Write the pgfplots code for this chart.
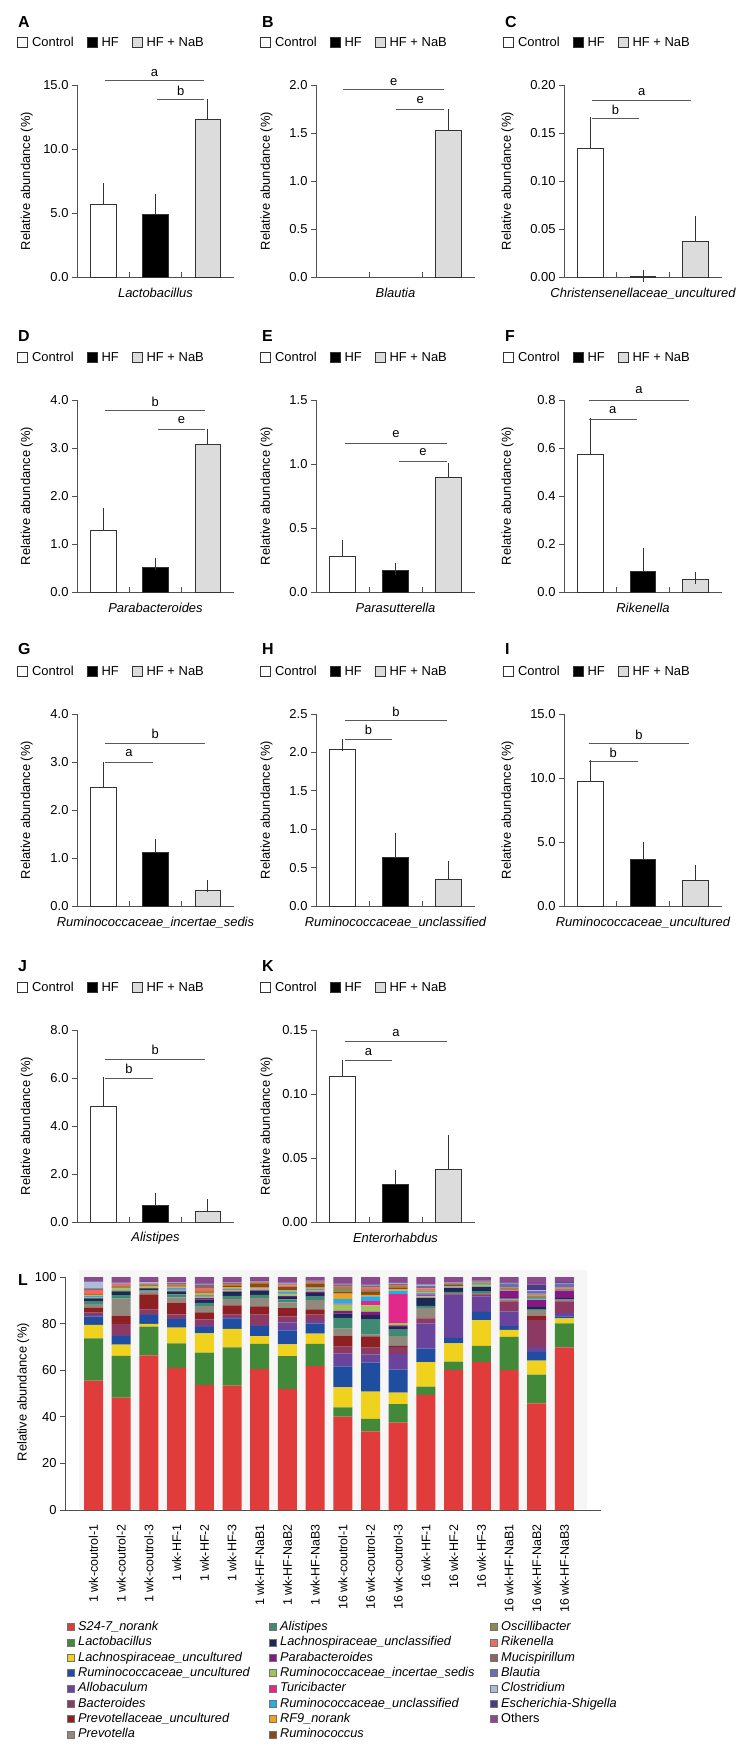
\documentclass[border=0pt]{standalone}
\usepackage{fontspec}
\setmainfont{Liberation Sans}
\usepackage{pgfplots}
\usepackage{pgfplotstable}
\pgfplotsset{compat=1.18}

\definecolor{axgray}{HTML}{505050}
\definecolor{barln}{HTML}{333333}
\definecolor{siggray}{HTML}{5A5A5A}
\definecolor{nabgray}{HTML}{DCDCDC}
\definecolor{bgL}{HTML}{F6F6F6}
% genus colours for panel L
\definecolor{cS24}{HTML}{E03C3C}
\definecolor{cLac}{HTML}{42893A}
\definecolor{cLaU}{HTML}{F0D21E}
\definecolor{cRuU}{HTML}{1F4DA0}
\definecolor{cAll}{HTML}{6A439C}
\definecolor{cBac}{HTML}{8C3A63}
\definecolor{cPvU}{HTML}{8E1F22}
\definecolor{cPre}{HTML}{8F8A7D}
\definecolor{cAli}{HTML}{3F8A72}
\definecolor{cLaX}{HTML}{1C2858}
\definecolor{cPar}{HTML}{861784}
\definecolor{cRuI}{HTML}{9CC65A}
\definecolor{cTur}{HTML}{E3288C}
\definecolor{cRuX}{HTML}{27ACE3}
\definecolor{cRF9}{HTML}{EEA21F}
\definecolor{cRum}{HTML}{8A4A1A}
\definecolor{cOsc}{HTML}{8C8A4F}
\definecolor{cRik}{HTML}{EC6B64}
\definecolor{cMuc}{HTML}{8D6461}
\definecolor{cBla}{HTML}{6B6DB3}
\definecolor{cClo}{HTML}{A9BDDA}
\definecolor{cEsc}{HTML}{4B3B86}
\definecolor{cOth}{HTML}{8C4A8E}

% panel L: relative abundance (%) per sample, bottom to top
\pgfplotstableread{
x  S24  Lac  LaU  RuU  All  Bac  PvU  Pre  Ali  LaX  Par  RuI  Tur  RuX  RF9  Rum  Osc  Rik  Muc  Bla  Clo  Esc  Oth
0  55.5 18.2 5.8  3.5  0.8  0.9  2.1  1.6  1.3  1.0  0.3  0.3  0.0  0.5  0.3  0.2  0.4  1.8  0.5  0.2  2.7  0.1  2.0
1  48.2 18.0 4.8  3.7  0.5  4.7  3.5  7.3  1.5  1.6  0.2  0.8  0.0  0.2  0.3  0.3  0.5  0.8  0.3  0.1  0.2  0.1  2.4
2  66.4 12.3 1.2  3.9  0.3  1.9  6.5  1.2  0.6  0.8  0.1  0.5  0.0  0.1  0.2  0.2  0.4  0.3  0.3  0.1  0.5  0.1  2.1
3  61.0 10.5 6.8  3.6  0.5  1.6  5.0  2.3  1.2  1.2  0.3  0.5  0.1  0.8  0.5  0.2  0.4  0.6  0.3  0.1  0.2  0.1  2.2
4  53.7 13.9 8.2  2.7  1.0  2.3  3.0  2.7  1.4  1.4  0.6  0.6  0.1  0.6  0.9  0.3  0.6  1.2  1.4  0.2  0.3  0.2  2.7
5  53.4 16.4 7.9  4.5  0.6  1.1  3.9  2.8  1.3  1.6  0.3  0.5  0.1  0.5  0.8  0.5  0.4  0.5  0.4  0.1  0.2  0.1  2.1
6  60.5 10.8 3.3  4.3  0.5  4.5  3.5  3.6  1.3  1.7  0.3  0.3  0.1  0.3  0.5  1.6  0.3  0.4  0.2  0.1  0.1  0.1  1.7
7  52.0 14.0 5.1  6.0  3.4  2.6  3.5  2.5  1.3  1.0  0.4  0.9  0.2  0.9  0.6  1.5  0.4  0.6  0.3  0.1  0.2  0.1  2.4
8  61.8 9.5  4.4  4.3  1.2  2.7  2.2  4.0  1.5  1.5  0.6  0.5  0.1  0.6  0.6  1.5  0.4  0.4  0.3  0.1  0.1  0.1  1.6
9  40.1 4.0  8.5  9.0  5.5  3.0  4.8  3.0  4.6  1.8  1.2  2.6  0.5  2.0  2.3  0.6  2.2  0.4  0.5  0.2  0.2  0.2  2.8
10 33.8 5.3  11.7 12.5 3.4  3.0  4.8  0.8  6.4  1.9  1.6  2.6  1.9  2.0  0.6  1.3  0.9  1.0  0.6  0.3  0.2  0.2  3.2
11 37.5 7.9  5.0  9.9  6.7  2.9  0.6  4.1  2.8  1.2  0.6  1.0  12.5 1.5  0.6  0.8  0.5  0.4  0.5  0.2  0.2  0.3  2.3
12 49.4 3.6  10.5 5.8  10.8 2.2  0.3  4.2  0.8  3.3  0.3  0.5  0.6  0.8  0.3  0.3  0.6  0.8  0.6  0.6  0.4  0.2  3.1
13 60.2 3.5  7.8  2.4  18.4 0.3  0.2  0.3  0.5  1.6  0.1  0.2  0.1  0.3  0.1  0.6  0.4  0.1  0.2  0.2  0.1  0.1  2.3
14 63.5 7.0  11.0 3.5  6.7  0.8  0.3  0.3  0.8  1.8  0.2  0.6  0.1  0.2  0.1  0.3  0.5  0.1  0.2  0.2  0.1  0.1  1.6
15 60.0 14.3 3.0  1.6  6.4  4.3  0.3  0.5  0.3  0.3  3.0  0.2  0.1  0.1  0.1  0.2  0.5  0.2  0.4  1.2  0.2  0.5  2.3
16 45.8 12.3 6.0  3.8  2.0  11.6 1.9  2.4  0.4  1.0  3.0  0.2  0.1  0.5  0.1  0.2  0.8  0.3  0.5  1.0  0.5  2.3  3.3
17 69.8 10.3 2.1  0.9  1.5  5.0  0.3  0.3  0.2  0.6  3.0  0.1  0.1  0.2  0.1  0.2  0.4  0.3  0.4  1.5  0.2  0.3  2.2
}\Ltab

\newcommand\lblfont{\fontsize{13}{15}\selectfont}

\pgfplotsset{
  base/.style={
    scale only axis, height=192bp, anchor=south west,
    xmin=0.5, xmax=3.5, ymin=0, clip=false,
    axis lines=left,
    axis line style={-, draw=axgray, line width=0.9bp},
    tick style={draw=axgray, line width=0.9bp},
    tick align=outside, major tick length=5bp,
    xtick={1.5,2.5}, xticklabels={\relax,\relax}, xtick style={yshift=5bp},
    scaled y ticks=false,
    /pgf/number format/assume math mode=true,
    tick label style={font=\lblfont},
    ylabel={Relative abundance (\%)},
    every axis x label/.style={at={(axis description cs:0.5,-0.085)}, anchor=center, font=\lblfont\itshape},
    legend columns=3,
    legend style={anchor=west, draw=none, fill=none, inner sep=0pt,
      font=\lblfont,
      nodes={inner xsep=4bp, inner ysep=0pt},
      /tikz/every even column/.append style={column sep=9bp}},
    legend image code/.code={\draw[##1, line width=0.8bp] (0bp,-5bp) rectangle (10bp,5bp);},
  },
  c1/.style={width=157bp, legend style={at={(-0.382,1.222)}},
    every axis y label/.style={at={(axis description cs:-0.32,0.5)}, rotate=90, anchor=center, font=\lblfont}},
  c2/.style={width=159bp, legend style={at={(-0.352,1.222)}},
    every axis y label/.style={at={(axis description cs:-0.311,0.5)}, rotate=90, anchor=center, font=\lblfont}},
  c3/.style={width=158bp, legend style={at={(-0.386,1.222)}},
    every axis y label/.style={at={(axis description cs:-0.358,0.5)}, rotate=90, anchor=center, font=\lblfont}},
  prec/.style={yticklabel style={/pgf/number format/.cd, fixed, fixed zerofill, precision=#1}},
  cbar/.style={ybar, bar width=0.49, bar shift=0pt, forget plot, draw=barln, line width=0.9bp,
    error bars/y dir=plus, error bars/y explicit,
    error bars/error bar style={draw=barln, line width=0.9bp},
    error bars/error mark options={draw=barln, line width=0.9bp, mark size=6bp}},
  pc/.style={fill=white, cbar},
  ph/.style={fill=black, cbar},
  pn/.style={fill=nabgray, cbar},
}

\newcommand\grpleg{%
  \addlegendimage{fill=white, draw=barln}\addlegendentry{Control}
  \addlegendimage{fill=black, draw=barln}\addlegendentry{HF}
  \addlegendimage{fill=nabgray, draw=barln}\addlegendentry{HF + NaB}}
\newcommand\sig[5]{%
  \draw[draw=siggray, line width=1bp] (axis cs:#1,#3) -- (axis cs:#2,#3);
  \node[inner sep=0pt, font=\lblfont] at (axis cs:{(#1+#2)/2},#4) {#5};}

\tikzset{lbl/.style={anchor=base west, inner sep=0pt, font=\fontsize{16}{18}\selectfont\bfseries}}

\begin{document}
\begin{tikzpicture}
\path (0,0) rectangle (750bp,-1753bp);

% ---------- row 1 ----------
\node[lbl] at (18bp,-27bp) {A};
\begin{axis}[base, c1, at={(77bp,-277bp)}, ymax=15, ytick={0,5,10,15}, prec=1,
  xlabel={Lactobacillus}]
\grpleg
\addplot[pc] coordinates {(1,5.70) +- (0,1.15)};
\addplot[ph] coordinates {(2,4.90) +- (0,1.10)};
\addplot[pn] coordinates {(3,12.27) +- (0,1.13)};
\sig{1.03}{2.93}{15.37}{15.96}{a}
\sig{2.03}{2.93}{13.9}{14.55}{b}
\end{axis}

\node[lbl] at (262bp,-27bp) {B};
\begin{axis}[base, c2, at={(316bp,-277bp)}, ymax=2, ytick={0,0.5,1,1.5,2}, prec=1,
  xlabel={Blautia}]
\grpleg
\addplot[pn] coordinates {(3,1.53) +- (0,0.16)};
\sig{1.01}{2.92}{1.95}{2.03}{e}
\sig{2.01}{2.92}{1.75}{1.84}{e}
\end{axis}

\node[lbl] at (505bp,-27bp) {C};
\begin{axis}[base, c3, at={(564bp,-277bp)}, ymax=0.2, ytick={0,0.05,0.1,0.15,0.2}, prec=2,
  xlabel={Christensenellaceae\_uncultured}]
\grpleg
\addplot[pc] coordinates {(1,0.134) +- (0,0.026)};
\addplot[ph] coordinates {(2,0.001) +- (0,0.0005)};
\addplot[pn] coordinates {(3,0.0368) +- (0,0.021)};
\sig{1.03}{2.92}{0.1837}{0.193}{a}
\sig{1.03}{1.92}{0.1646}{0.174}{b}
\end{axis}

% ---------- row 2 ----------
\node[lbl] at (18bp,-341bp) {D};
\begin{axis}[base, c1, at={(77bp,-592bp)}, ymax=4, ytick={0,1,2,3,4}, prec=1,
  xlabel={Parabacteroides}]
\grpleg
\addplot[pc] coordinates {(1,1.29) +- (0,0.335)};
\addplot[ph] coordinates {(2,0.51) +- (0,0.08)};
\addplot[pn] coordinates {(3,3.08) +- (0,0.20)};
\sig{1.04}{2.95}{3.78}{3.97}{b}
\sig{2.04}{2.95}{3.39}{3.58}{e}
\end{axis}

\node[lbl] at (262bp,-341bp) {E};
\begin{axis}[base, c2, at={(316bp,-592bp)}, ymax=1.5, ytick={0,0.5,1,1.5}, prec=1,
  xlabel={Parasutterella}]
\grpleg
\addplot[pc] coordinates {(1,0.28) +- (0,0.08)};
\addplot[ph] coordinates {(2,0.166) +- (0,0.011)};
\addplot[pn] coordinates {(3,0.896) +- (0,0.062)};
\sig{1.05}{2.97}{1.16}{1.23}{e}
\sig{2.07}{2.97}{1.016}{1.09}{e}
\end{axis}

\node[lbl] at (505bp,-341bp) {F};
\begin{axis}[base, c3, at={(564bp,-592bp)}, ymax=0.8, ytick={0,0.2,0.4,0.6,0.8}, prec=1,
  xlabel={Rikenella}]
\grpleg
\addplot[pc] coordinates {(1,0.575) +- (0,0.125)};
\addplot[ph] coordinates {(2,0.085) +- (0,0.073)};
\addplot[pn] coordinates {(3,0.053) +- (0,0.007)};
\sig{0.97}{2.88}{0.80}{0.84}{a}
\sig{0.97}{1.88}{0.72}{0.76}{a}
\end{axis}

% ---------- row 3 ----------
\node[lbl] at (18bp,-654bp) {G};
\begin{axis}[base, c1, at={(77bp,-906bp)}, ymax=4, ytick={0,1,2,3,4}, prec=1,
  xlabel={Ruminococcaceae\_incertae\_sedis}]
\grpleg
\addplot[pc] coordinates {(1,2.46) +- (0,0.42)};
\addplot[ph] coordinates {(2,1.125) +- (0,0.155)};
\addplot[pn] coordinates {(3,0.32) +- (0,0.10)};
\sig{1.04}{2.95}{3.39}{3.58}{b}
\sig{1.04}{1.95}{3.0}{3.19}{a}
\end{axis}

\node[lbl] at (262bp,-654bp) {H};
\begin{axis}[base, c2, at={(316bp,-906bp)}, ymax=2.5, ytick={0,0.5,1,1.5,2,2.5}, prec=1,
  xlabel={Ruminococcaceae\_unclassified}]
\grpleg
\addplot[pc] coordinates {(1,2.035) +- (0,0.055)};
\addplot[ph] coordinates {(2,0.63) +- (0,0.245)};
\addplot[pn] coordinates {(3,0.35) +- (0,0.16)};
\sig{1.05}{2.97}{2.41}{2.53}{b}
\sig{1.05}{1.93}{2.17}{2.29}{b}
\end{axis}

\node[lbl] at (505bp,-654bp) {I};
\begin{axis}[base, c3, at={(564bp,-906bp)}, ymax=15, ytick={0,5,10,15}, prec=1,
  xlabel={Ruminococcaceae\_uncultured}]
\grpleg
\addplot[pc] coordinates {(1,9.77) +- (0,1.17)};
\addplot[ph] coordinates {(2,3.67) +- (0,0.83)};
\addplot[pn] coordinates {(3,1.98) +- (0,0.75)};
\sig{0.97}{2.88}{12.7}{13.4}{b}
\sig{0.97}{1.90}{11.27}{12.0}{b}
\end{axis}

% ---------- row 4 ----------
\node[lbl] at (18bp,-971bp) {J};
\begin{axis}[base, c1, at={(77bp,-1222bp)}, ymax=8, ytick={0,2,4,6,8}, prec=1,
  xlabel={Alistipes}]
\grpleg
\addplot[pc] coordinates {(1,4.8) +- (0,1.0)};
\addplot[ph] coordinates {(2,0.67) +- (0,0.27)};
\addplot[pn] coordinates {(3,0.43) +- (0,0.28)};
\sig{1.04}{2.95}{6.78}{7.17}{b}
\sig{1.04}{1.95}{6.0}{6.39}{b}
\end{axis}

\node[lbl] at (262bp,-971bp) {K};
\begin{axis}[base, c2, at={(316bp,-1222bp)}, ymax=0.15, ytick={0,0.05,0.1,0.15}, prec=2,
  xlabel={Enterorhabdus}]
\grpleg
\addplot[pc] coordinates {(1,0.1135) +- (0,0.0085)};
\addplot[ph] coordinates {(2,0.0297) +- (0,0.0063)};
\addplot[pn] coordinates {(3,0.0414) +- (0,0.0221)};
\sig{1.05}{2.97}{0.1409}{0.1474}{a}
\sig{1.05}{1.93}{0.1263}{0.1328}{a}
\end{axis}

% ---------- panel L ----------
\node[lbl] at (18bp,-1285bp) {L};
\fill[bgL] (79bp,-1270bp) rectangle (587bp,-1509bp);
\begin{axis}[
  at={(65bp,-1510bp)}, anchor=south west, scale only axis, width=536bp, height=233bp,
  ybar stacked, bar width=0.686,
  xmin=-1.03, xmax=18.32, ymin=0, ymax=100,
  axis lines=left, axis line style={-, draw=axgray, line width=0.9bp},
  tick style={draw=axgray, line width=0.9bp}, tick align=outside, major tick length=5bp,
  ytick={0,20,40,60,80,100},
  xtick={0,...,17}, xtick style={draw=none},
  xticklabels={1 wk-coutrol-1,1 wk-coutrol-2,1 wk-coutrol-3,1 wk-HF-1,1 wk-HF-2,1 wk-HF-3,
    1 wk-HF-NaB1,1 wk-HF-NaB2,1 wk-HF-NaB3,16 wk-coutrol-1,16 wk-coutrol-2,16 wk-coutrol-3,
    16 wk-HF-1,16 wk-HF-2,16 wk-HF-3,16 wk-HF-NaB1,16 wk-HF-NaB2,16 wk-HF-NaB3},
  xticklabel style={rotate=90, anchor=east, inner xsep=9bp, font=\fontsize{12.5}{14}\selectfont},
  yticklabel style={font=\lblfont},
  /pgf/number format/assume math mode=true,
  ylabel={Relative abundance (\%)},
  every axis y label/.style={at={(axis description cs:-0.078,0.506)}, rotate=90, anchor=center, font=\lblfont},
  every axis plot/.append style={draw=none},
]
\addplot[fill=cS24] table[x=x, y=S24] {\Ltab};
\addplot[fill=cLac] table[x=x, y=Lac] {\Ltab};
\addplot[fill=cLaU] table[x=x, y=LaU] {\Ltab};
\addplot[fill=cRuU] table[x=x, y=RuU] {\Ltab};
\addplot[fill=cAll] table[x=x, y=All] {\Ltab};
\addplot[fill=cBac] table[x=x, y=Bac] {\Ltab};
\addplot[fill=cPvU] table[x=x, y=PvU] {\Ltab};
\addplot[fill=cPre] table[x=x, y=Pre] {\Ltab};
\addplot[fill=cAli] table[x=x, y=Ali] {\Ltab};
\addplot[fill=cLaX] table[x=x, y=LaX] {\Ltab};
\addplot[fill=cPar] table[x=x, y=Par] {\Ltab};
\addplot[fill=cRuI] table[x=x, y=RuI] {\Ltab};
\addplot[fill=cTur] table[x=x, y=Tur] {\Ltab};
\addplot[fill=cRuX] table[x=x, y=RuX] {\Ltab};
\addplot[fill=cRF9] table[x=x, y=RF9] {\Ltab};
\addplot[fill=cRum] table[x=x, y=Rum] {\Ltab};
\addplot[fill=cOsc] table[x=x, y=Osc] {\Ltab};
\addplot[fill=cRik] table[x=x, y=Rik] {\Ltab};
\addplot[fill=cMuc] table[x=x, y=Muc] {\Ltab};
\addplot[fill=cBla] table[x=x, y=Bla] {\Ltab};
\addplot[fill=cClo] table[x=x, y=Clo] {\Ltab};
\addplot[fill=cEsc] table[x=x, y=Esc] {\Ltab};
\addplot[fill=cOth] table[x=x, y=Oth] {\Ltab};
\end{axis}

% ---------- legend of panel L (three columns) ----------
\pgfplotsset{Lleg/.style={hide axis, scale only axis, width=10bp, height=10bp,
  xmin=0, xmax=1, ymin=0, ymax=1, anchor=north west,
  legend cell align=left,
  legend style={at={(0,1)}, anchor=north west, draw=none, fill=none, inner sep=0pt,
    font=\fontsize{12.8}{15}\selectfont\itshape, row sep=3.4bp,
    nodes={inner xsep=3.5bp, inner ysep=0pt, text height=9.3bp, text depth=2.6bp}},
  legend image code/.code={\draw[##1, draw=black!55, line width=0.5bp] (0bp,-3.5bp) rectangle (7bp,3.5bp);}}}
\begin{axis}[Lleg, at={(67bp,-1621bp)}]
\addlegendimage{fill=cS24}\addlegendentry{S24-7\_norank}
\addlegendimage{fill=cLac}\addlegendentry{Lactobacillus}
\addlegendimage{fill=cLaU}\addlegendentry{Lachnospiraceae\_uncultured}
\addlegendimage{fill=cRuU}\addlegendentry{Ruminococcaceae\_uncultured}
\addlegendimage{fill=cAll}\addlegendentry{Allobaculum}
\addlegendimage{fill=cBac}\addlegendentry{Bacteroides}
\addlegendimage{fill=cPvU}\addlegendentry{Prevotellaceae\_uncultured}
\addlegendimage{fill=cPre}\addlegendentry{Prevotella}
\end{axis}
\begin{axis}[Lleg, at={(269bp,-1621bp)}]
\addlegendimage{fill=cAli}\addlegendentry{Alistipes}
\addlegendimage{fill=cLaX}\addlegendentry{Lachnospiraceae\_unclassified}
\addlegendimage{fill=cPar}\addlegendentry{Parabacteroides}
\addlegendimage{fill=cRuI}\addlegendentry{Ruminococcaceae\_incertae\_sedis}
\addlegendimage{fill=cTur}\addlegendentry{Turicibacter}
\addlegendimage{fill=cRuX}\addlegendentry{Ruminococcaceae\_unclassified}
\addlegendimage{fill=cRF9}\addlegendentry{RF9\_norank}
\addlegendimage{fill=cRum}\addlegendentry{Ruminococcus}
\end{axis}
\begin{axis}[Lleg, at={(490bp,-1621bp)}]
\addlegendimage{fill=cOsc}\addlegendentry{Oscillibacter}
\addlegendimage{fill=cRik}\addlegendentry{Rikenella}
\addlegendimage{fill=cMuc}\addlegendentry{Mucispirillum}
\addlegendimage{fill=cBla}\addlegendentry{Blautia}
\addlegendimage{fill=cClo}\addlegendentry{Clostridium}
\addlegendimage{fill=cEsc}\addlegendentry{Escherichia-Shigella}
\addlegendimage{fill=cOth}\addlegendentry{\upshape Others}
\end{axis}
\end{tikzpicture}
\end{document}
